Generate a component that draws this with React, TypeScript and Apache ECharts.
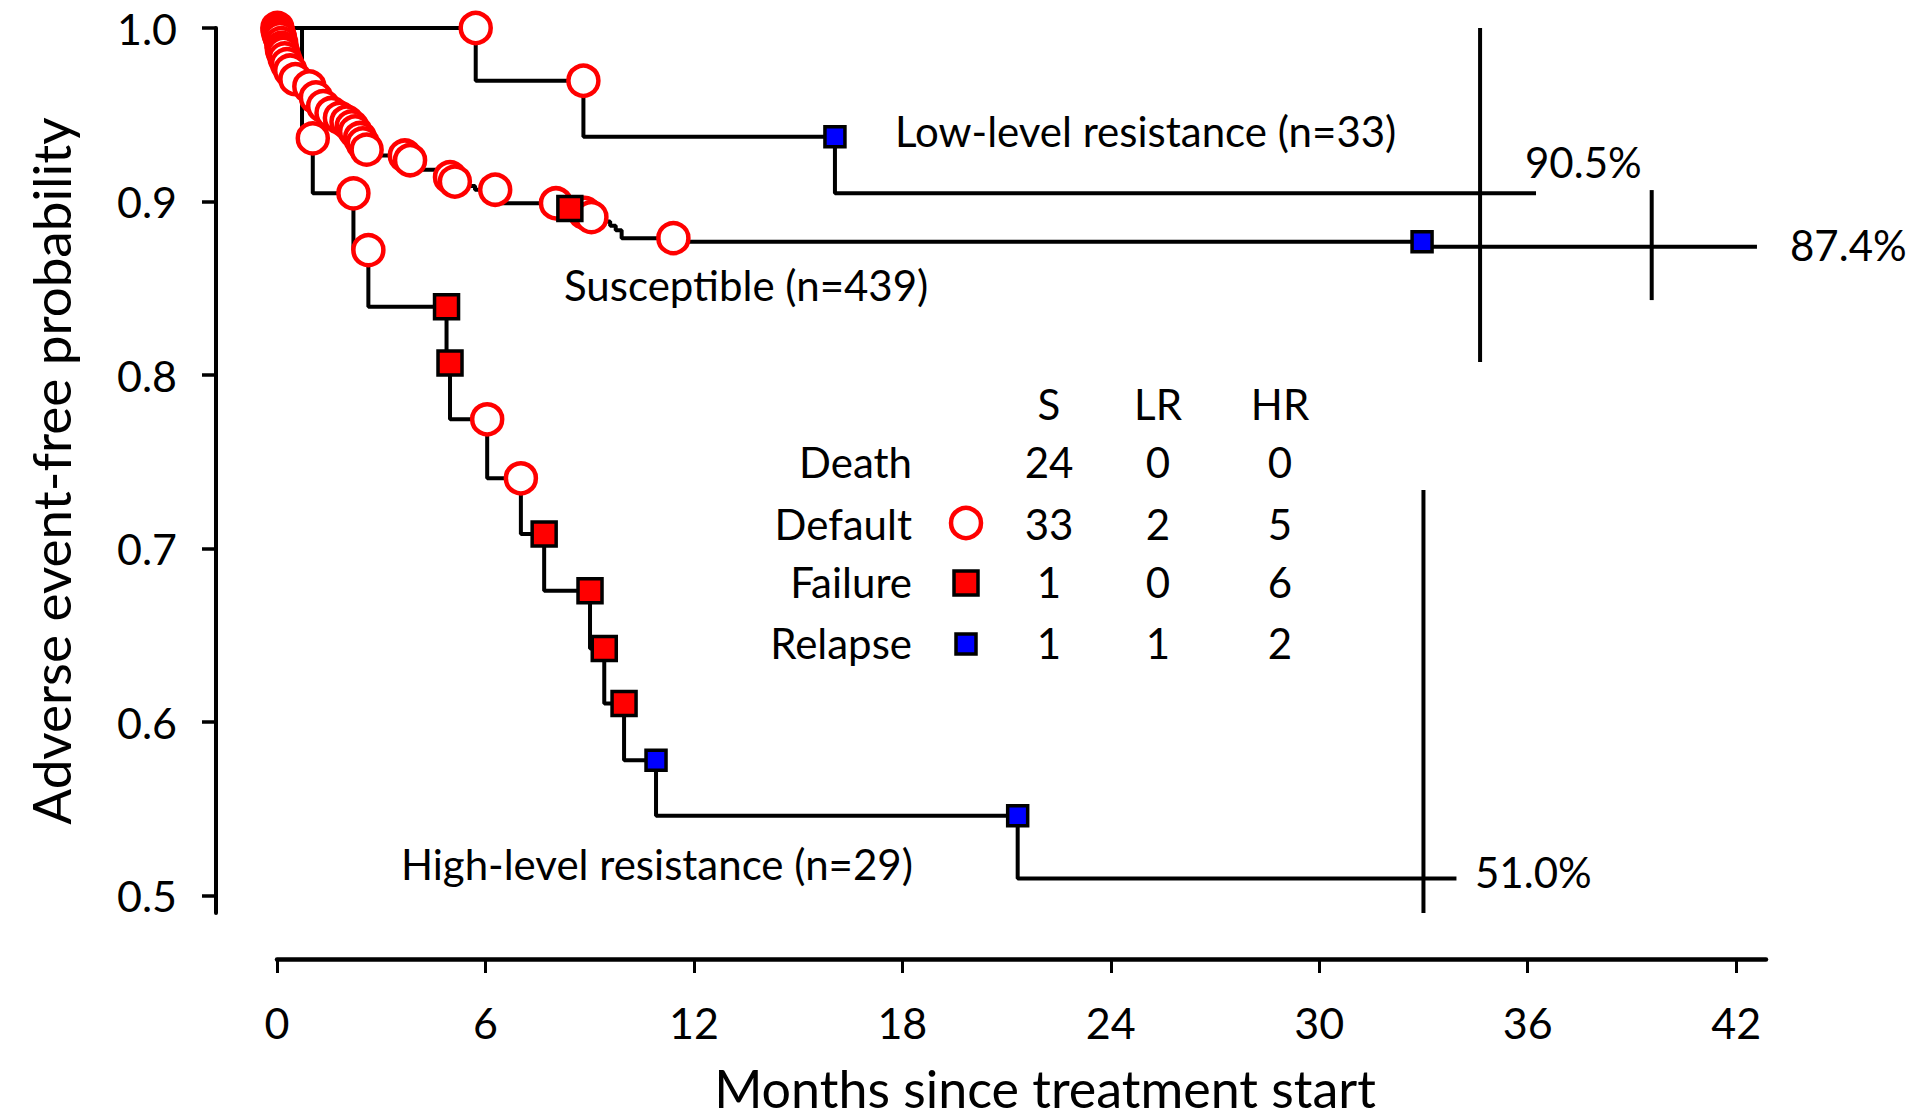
import React, { useEffect, useRef } from "react";
import * as echarts from "echarts";

// ---------- axis ticks ----------
const yTicks = [0.5, 0.6, 0.7, 0.8, 0.9, 1.0];
const xTicks = [0, 6, 12, 18, 24, 30, 36, 42];

// ---------- Kaplan-Meier curves ----------
// event time (months), survival just after the event, and event type (marker drawn at pre-event level)
const susTimes = [0.01, 0.02, 0.04, 0.06, 0.09, 0.12, 0.135, 0.15, 0.18, 0.22, 0.29, 0.38, 0.53, 0.93, 1.12, 1.33, 1.57, 1.81, 2.0, 2.15, 2.25, 2.39, 2.47, 2.58, 3.68, 3.83, 4.65, 4.98, 5.12, 5.7, 6.28, 6.45, 8.03, 8.43, 8.85, 9.05, 9.59, 9.75, 9.92, 11.41, 32.96];
const susProbs = [0.9985, 0.9971, 0.9957, 0.9942, 0.9913, 0.9885, 0.987, 0.9856, 0.9825, 0.9792, 0.9755, 0.9705, 0.9663, 0.96, 0.955, 0.951, 0.9482, 0.946, 0.9433, 0.9404, 0.9366, 0.9335, 0.9299, 0.9265, 0.9238, 0.9183, 0.914, 0.9115, 0.909, 0.9068, 0.902, 0.899, 0.896, 0.8935, 0.891, 0.8885, 0.886, 0.8835, 0.8789, 0.8768, 0.874];
const susTypes = ["default", "default", "default", "default", "default", "default", "default", "default", "default", "default", "default", "default", "default", "default", "default", "default", "default", "default", "default", "default", "default", "default", "default", "default", "default", "default", "none", "default", "default", "none", "default", "none", "default", "failure", "default", "default", "none", "none", "none", "default", "relapse"];
const susEnd = 42.6;

const lowTimes = [5.72, 8.82, 16.06];
const lowProbs = [0.9696, 0.9374, 0.9047];
const lowTypes = ["default", "default", "relapse"];
const lowEnd = 36.24;

const highTimes = [0.72, 1.03, 2.2, 2.63, 4.88, 4.98, 6.05, 7.02, 7.69, 9.01, 9.42, 9.99, 10.91, 21.32];
const highProbs = [0.9364, 0.9047, 0.872, 0.8394, 0.807, 0.7745, 0.7405, 0.7084, 0.6757, 0.6424, 0.6107, 0.578, 0.546, 0.5099];
const highTypes = ["none", "default", "default", "default", "failure", "failure", "default", "default", "failure", "failure", "failure", "failure", "relapse", "relapse"];
const highEnd = 33.95;

// final estimate confidence bars (LR, S, HR)
const ciTimes = [34.63, 39.57, 33.0];
const ciLow = [0.8075, 0.8432, 0.49];
const ciHigh = [1.0, 0.9066, 0.7337];

// ---------- annotations ----------
const curveLabels = ["Low-level resistance (n=33)", "Susceptible (n=439)", "High-level resistance (n=29)"];
const finalLabels = ["90.5%", "87.4%", "51.0%"];
const tableCols = ["S", "LR", "HR"];
const tableRows = ["Death", "Default", "Failure", "Relapse"];
const tableValues = [
  [24, 0, 0],
  [33, 2, 5],
  [1, 0, 6],
  [1, 1, 2],
];

const FONT = "Lato, 'Noto Sans', sans-serif";
const RED = "#ff0000";
const BLUE = "#0000ff";

function stepPoints(times: number[], probs: number[], end: number) {
  const pts: number[][] = [[0, 1]];
  let prev = 1;
  times.forEach((t, i) => {
    pts.push([t, prev]);
    pts.push([t, probs[i]]);
    prev = probs[i];
  });
  pts.push([end, prev]);
  return pts;
}

function markerPoints(times: number[], probs: number[], types: string[], type: string) {
  const out: number[][] = [];
  let prev = 1;
  times.forEach((t, i) => {
    if (types[i] === type) out.push([t, prev]);
    prev = probs[i];
  });
  return out;
}

function allMarkers(type: string) {
  return [
    ...markerPoints(susTimes, susProbs, susTypes, type),
    ...markerPoints(lowTimes, lowProbs, lowTypes, type),
    ...markerPoints(highTimes, highProbs, highTypes, type),
  ];
}

function txt(text: string, x: number, y: number, size: number, align: string) {
  return {
    type: "text",
    x,
    y,
    silent: true,
    style: { text, fontSize: size, fontFamily: FONT, fill: "#000", align, verticalAlign: "middle" },
  };
}

export default function App() {
  const ref = useRef<HTMLDivElement>(null);

  useEffect(() => {
    const chart = echarts.init(ref.current!, null, { renderer: "svg" });

    const lineStyle = { color: "#000", width: 4 };
    const curveSeries = [
      stepPoints(susTimes, susProbs, susEnd),
      stepPoints(lowTimes, lowProbs, lowEnd),
      stepPoints(highTimes, highProbs, highEnd),
    ].map((data) => ({
      type: "line",
      data,
      showSymbol: false,
      symbol: "none",
      clip: false,
      silent: true,
      lineStyle,
      z: 2,
    }));

    const ciSeries = ciTimes.map((t, i) => ({
      type: "line",
      data: [
        [t, ciLow[i]],
        [t, ciHigh[i]],
      ],
      showSymbol: false,
      symbol: "none",
      clip: false,
      silent: true,
      lineStyle,
      z: 2,
    }));

    const graphic: any[] = [];
    // axis titles
    graphic.push({
      type: "text",
      x: 50,
      y: 471,
      rotation: Math.PI / 2,
      silent: true,
      style: { text: "Adverse event-free probability", fontSize: 53, fontFamily: FONT, fill: "#000", align: "center", verticalAlign: "middle" },
    });
    graphic.push(txt("Months since treatment start", 1045, 1088, 52, "center"));
    // curve labels
    graphic.push(txt(curveLabels[0], 895, 131, 42, "left"));
    graphic.push(txt(curveLabels[1], 564, 285, 42, "left"));
    graphic.push(txt(curveLabels[2], 401, 864, 42, "left"));
    graphic.push(txt(finalLabels[0], 1525, 162, 42, "left"));
    graphic.push(txt(finalLabels[1], 1790, 245, 42, "left"));
    graphic.push(txt(finalLabels[2], 1475, 872, 42, "left"));
    // table
    const colX = [1049, 1158, 1280];
    const rowY = [462, 524, 582, 643];
    tableCols.forEach((c, j) => graphic.push(txt(c, colX[j], 404, 42, "center")));
    tableRows.forEach((r, i) => {
      graphic.push(txt(r, 912, rowY[i], 42, "right"));
      tableValues[i].forEach((v, j) => graphic.push(txt(String(v), colX[j], rowY[i], 42, "center")));
    });
    graphic.push({
      type: "circle",
      silent: true,
      shape: { cx: 966, cy: 523, r: 15 },
      style: { fill: "#fff", stroke: RED, lineWidth: 4.5 },
    });
    graphic.push({
      type: "rect",
      silent: true,
      shape: { x: 954, y: 571, width: 24, height: 24 },
      style: { fill: RED, stroke: "#000", lineWidth: 3.5 },
    });
    graphic.push({
      type: "rect",
      silent: true,
      shape: { x: 956, y: 634, width: 20, height: 20 },
      style: { fill: BLUE, stroke: "#000", lineWidth: 3.5 },
    });

    const option: any = {
      animation: false,
      backgroundColor: "#fff",
      grid: { left: 277, right: 151, top: 28, bottom: 206, containLabel: false },
      xAxis: {
        type: "value",
        min: 0,
        max: 42.86,
        position: "bottom",
        offset: 46,
        axisLine: { show: true, onZero: false, lineStyle: { color: "#000", width: 4.5 } },
        axisTick: { show: true, inside: false, length: 14, lineStyle: { color: "#000", width: 3 }, customValues: xTicks },
        axisLabel: { show: true, customValues: xTicks, fontSize: 43, fontFamily: FONT, color: "#000", margin: 42 },
        splitLine: { show: false },
      },
      yAxis: {
        type: "value",
        min: 0.49,
        max: 1.0,
        position: "left",
        offset: 61,
        axisLine: { show: true, onZero: false, lineStyle: { color: "#000", width: 4 } },
        axisTick: { show: true, inside: false, length: 14, lineStyle: { color: "#000", width: 3.5 }, customValues: yTicks },
        axisLabel: {
          show: true,
          customValues: yTicks,
          formatter: (v: number) => v.toFixed(1),
          fontSize: 43,
          fontFamily: FONT,
          color: "#000",
          margin: 39,
        },
        splitLine: { show: false },
      },
      series: [
        ...curveSeries,
        ...ciSeries,
        {
          type: "scatter",
          data: allMarkers("default"),
          symbol: "circle",
          symbolSize: 30,
          clip: false,
          silent: true,
          itemStyle: { color: "#fff", borderColor: RED, borderWidth: 4.5, opacity: 1 },
          z: 3,
        },
        {
          type: "scatter",
          data: allMarkers("failure"),
          symbol: "rect",
          symbolSize: 24,
          clip: false,
          silent: true,
          itemStyle: { color: RED, borderColor: "#000", borderWidth: 3.5, opacity: 1 },
          z: 4,
        },
        {
          type: "scatter",
          data: allMarkers("relapse"),
          symbol: "rect",
          symbolSize: 20,
          clip: false,
          silent: true,
          itemStyle: { color: BLUE, borderColor: "#000", borderWidth: 3.5, opacity: 1 },
          z: 4,
        },
      ],
      graphic,
    };

    chart.setOption(option);
    return () => chart.dispose();
  }, []);

  return (
    <div
      ref={ref}
      style={{ position: "fixed", left: 0, top: 0, width: 1917, height: 1119, background: "#fff" }}
    />
  );
}
